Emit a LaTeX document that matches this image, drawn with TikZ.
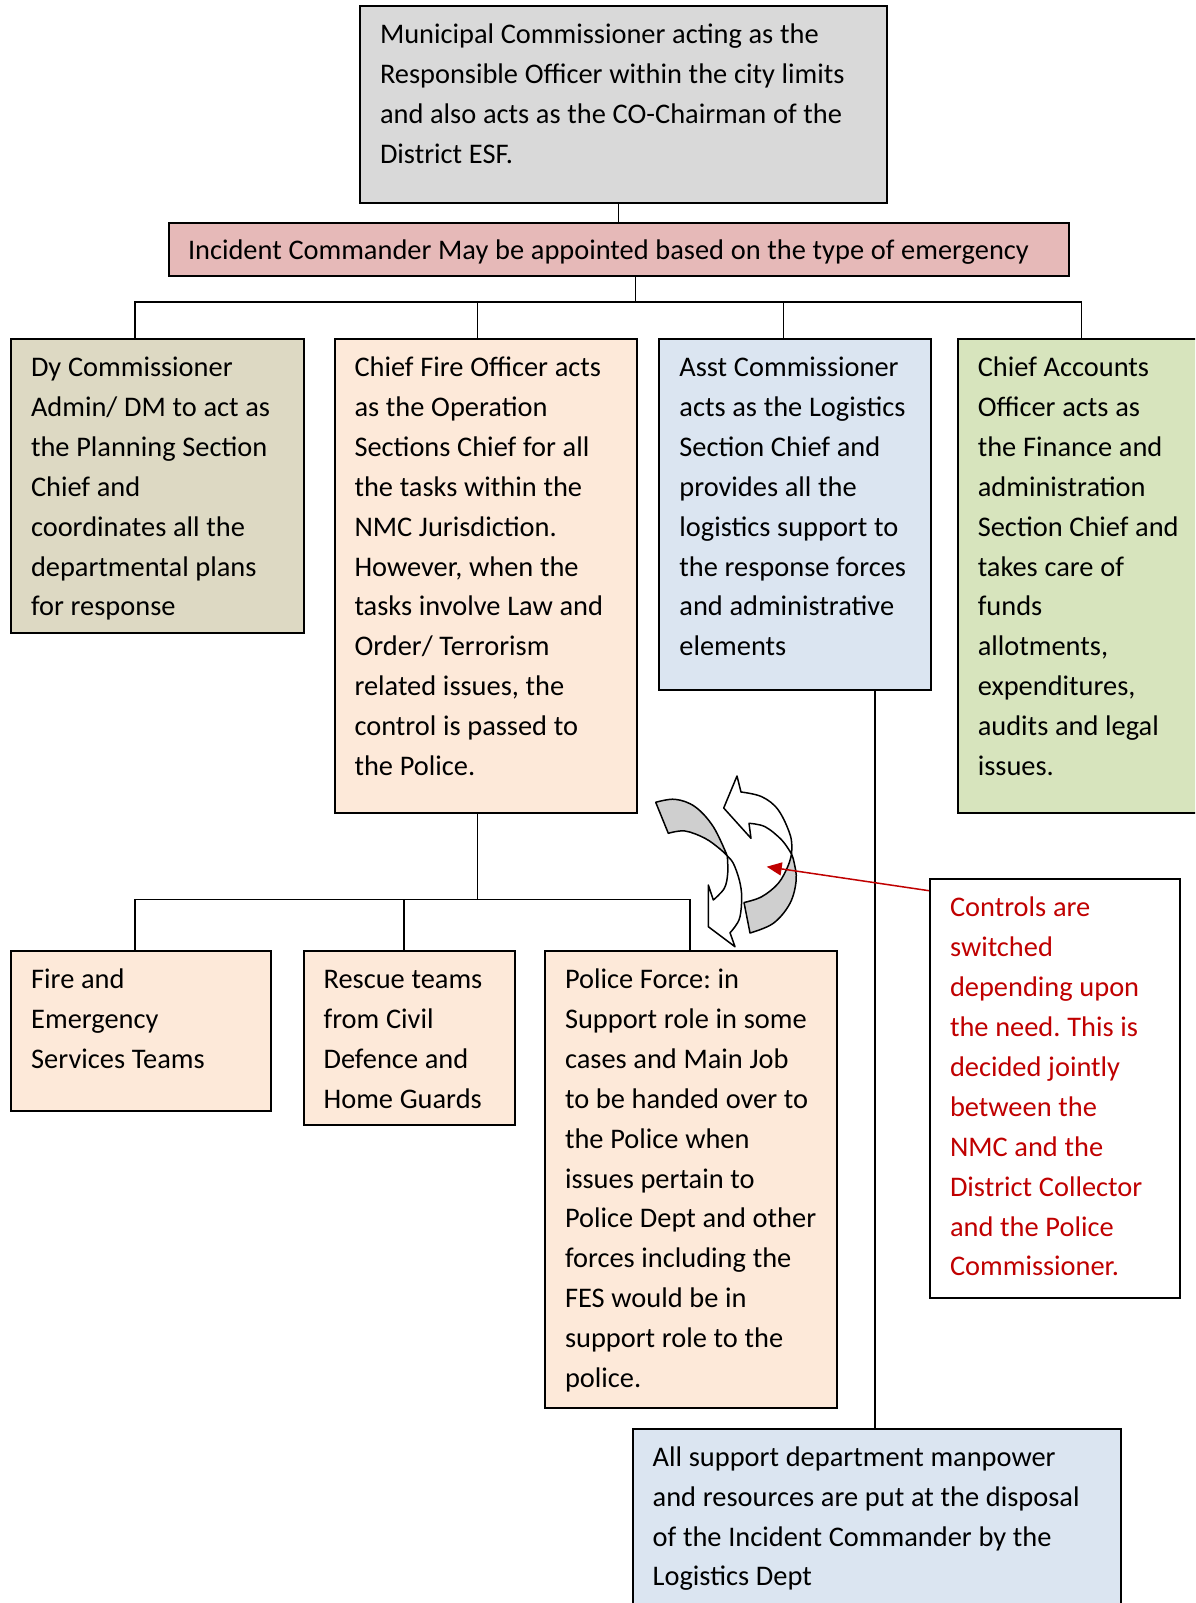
\documentclass[tikz,border=0pt]{standalone}
\usepackage{fontspec}
\usepackage{array}
\setmainfont{Carlito}
\usetikzlibrary{arrows.meta,calc}
\definecolor{greybox}{HTML}{D9D9D9}
\definecolor{pinkbox}{HTML}{E6B9B8}
\definecolor{olivebox}{HTML}{DDD9C3}
\definecolor{peachbox}{HTML}{FDE9D9}
\definecolor{bluebox}{HTML}{DBE5F1}
\definecolor{greenbox}{HTML}{D7E4BD}
\definecolor{darkred}{HTML}{C00000}
\definecolor{ribbongrey}{HTML}{CFCFCF}
\newcommand\bodyfont{\fontsize{28.4}{39.9}\selectfont\frenchspacing}
% fixed word spaces, set in every cell
\newcommand\tightspaces{\spaceskip=\dimexpr\fontdimen2\font+0.3pt\relax}
\newcommand\textlines[1]{\begin{tabular}[t]{@{}>{\tightspaces}l@{}}#1\end{tabular}}

\begin{document}
\begin{tikzpicture}[x=1pt,y=-1pt,
  orgbox/.style 2 args={draw, line width=2pt, anchor=north west,
    inner xsep=20pt, inner ysep=0pt, font=\bodyfont,
    text width=#1, text height=37.5pt, text depth=#2},
  link/.style={draw, line width=1.5pt},
  ribbonline/.style={draw, line width=1.5pt, line join=round}]

% page
\fill[white] (0,0) rectangle (1195,1603);
\clip (0,0) rectangle (1195,1603);

% boxes
\node[orgbox={487pt}{159.5pt}, fill=greybox] (top) at (359,5)
  {\textlines{Municipal Commissioner acting as the\\
   Responsible Officer within the city limits\\
   and also acts as the CO-Chairman of the\\
   District ESF.}};
\node[orgbox={862pt}{17pt}, inner xsep=19pt, text height=36pt, fill=pinkbox] (inc) at (168,222)
  {\textlines{Incident Commander May be appointed based on the type of emergency}};

\node[orgbox={253pt}{256.5pt}, fill=olivebox] (b1) at (10,338)
  {\textlines{Dy Commissioner\\ Admin/ DM to act as\\ the Planning Section\\ Chief and\\
   coordinates all the\\ departmental plans\\ for response}};
\node[orgbox={262.5pt}{436.5pt}, fill=peachbox] (b2) at (333.5,338)
  {\textlines{Chief Fire Officer acts\\ as the Operation\\ Sections Chief for all\\
   the tasks within the\\ NMC Jurisdiction.\\ However, when the\\ tasks involve Law and\\
   Order/ Terrorism\\ related issues, the\\ control is passed to\\ the Police.}};
\node[orgbox={231.2pt}{313.8pt}, fill=bluebox] (b3) at (658.4,338)
  {\textlines{Asst Commissioner\\ acts as the Logistics\\ Section Chief and\\ provides all the\\
   logistics support to\\ the response forces\\ and administrative\\ elements}};
\node[orgbox={222pt}{436.5pt}, fill=greenbox] (b4) at (956.8,338)
  {\textlines{Chief Accounts\\ Officer acts as\\ the Finance and\\ administration\\
   Section Chief and\\ takes care of\\ funds\\ allotments,\\ expenditures,\\
   audits and legal\\ issues.}};

\node[orgbox={220pt}{122.5pt}, fill=peachbox] (b5) at (10.2,950)
  {\textlines{Fire and\\ Emergency\\ Services Teams}};
\node[orgbox={171pt}{136.9pt}, fill=peachbox] (b6) at (302.6,950)
  {\textlines{Rescue teams\\ from Civil\\ Defence and\\ Home Guards}};
\node[orgbox={252pt}{419.1pt}, fill=peachbox] (b7) at (544,950)
  {\textlines{Police Force: in\\ Support role in some\\ cases and Main Job\\
   to be handed over to\\ the Police when\\ issues pertain to\\ Police Dept and other\\
   forces including the\\ FES would be in\\ support role to the\\ police.}};

\node[orgbox={210.3pt}{381.5pt}, fill=white, text=darkred] (ctl) at (929,878.3)
  {\textlines{Controls are\\ switched\\ depending upon\\ the need. This is\\
   decided jointly\\ between the\\ NMC and the\\ District Collector\\
   and the Police\\ Commissioner.}};

\node[orgbox={448.3pt}{162.5pt}, fill=bluebox] (bot) at (631.7,1427.7)
  {\textlines{All support department manpower\\ and resources are put at the disposal\\
   of the Incident Commander by the\\ Logistics Dept}};

% connectors, upper tier
\coordinate (c0) at (618.3,0);
\draw[link] (top.south -| c0) -- (inc.north -| c0);
\coordinate (hub) at (635.7,302);
\draw[link] (inc.south -| hub) -- (hub);
\coordinate (j1) at (135,302);
\coordinate (j2) at (477.7,302);
\coordinate (j3) at (783.4,302);
\coordinate (j4) at (1081.5,302);
\draw[link] (b1.north -| j1) -- (j1) -- (j4) -- (b4.north -| j4);
\draw[link] (j2) -- (b2.north -| j2);
\draw[link] (j3) -- (b3.north -| j3);

% connectors, lower tier
\coordinate (hub2) at (477.7,899.5);
\draw[link] (b2.south -| hub2) -- (hub2);
\coordinate (k1) at (135,899.5);
\coordinate (k2) at (403.8,899.5);
\coordinate (k3) at (690,899.5);
\draw[link] (b5.north -| k1) -- (k1) -- (k3) -- (b7.north -| k3);
\draw[link] (k2) -- (b6.north -| k2);

% logistics link down to the support box
\coordinate (v) at (875,0);
\draw[link] (b3.south -| v) -- (bot.north -| v);

% twisted curved arrows: hand-over of control
% first arrow: back face
\filldraw[ribbonline, fill=ribbongrey] (655.7,802.3) -- (668.3,833.3)
  -- plot[smooth, tension=0.6] coordinates {(668.3,833.3) (685,831) (705,838.3) (720,849) (727.3,856)}
  -- plot[smooth, tension=0.6] coordinates {(727.3,856) (713.3,826.7) (695,806.7) (675,799.3) (655.7,802.3)}
  -- cycle;
% first arrow: front face and head
\filldraw[ribbonline, fill=white] (727.3,856)
  -- plot[smooth, tension=0.6] coordinates {(727.3,856) (733.3,863.3) (739.3,880) (741.7,896.7) (740,916.7) (735,926.7) (730,932.7)}
  -- (735,946.7) -- (708.3,926.7) -- (708.3,885) -- (713.3,900)
  -- plot[smooth, tension=0.6] coordinates {(713.3,900) (724.3,888.3) (727.7,873.3) (727.3,856)}
  -- cycle;
% second arrow: back face
\filldraw[ribbonline, fill=ribbongrey] (744,902.5) -- (750,933)
  -- plot[smooth, tension=0.6] coordinates {(750,933) (773.3,923.3) (790,903.3) (796.2,880) (794,862) (791.5,854)}
  -- plot[smooth, tension=0.6] coordinates {(791.5,854) (788,866) (778.3,883.3) (761.7,896.7) (744,902.5)}
  -- cycle;
% second arrow: front face and head
\filldraw[ribbonline, fill=white] (791.5,854)
  -- plot[smooth, tension=0.6] coordinates {(791.5,854) (790.5,836) (778.3,810) (761.7,796.7) (741,792)}
  -- (737,776) -- (723.7,808) -- (751,838.3) -- (749,823.3)
  -- plot[smooth, tension=0.6] coordinates {(749,823.3) (765,826.7) (781.7,840) (791.5,854)}
  -- cycle;

% note pointing at the arrows
\coordinate (swap) at (766.7,866.7);
\draw[darkred, line width=1.5pt, -{Triangle[length=15pt,width=13pt]}]
  ($(ctl.north west)+(0,12.4)$) -- (swap);
\end{tikzpicture}
\end{document}
